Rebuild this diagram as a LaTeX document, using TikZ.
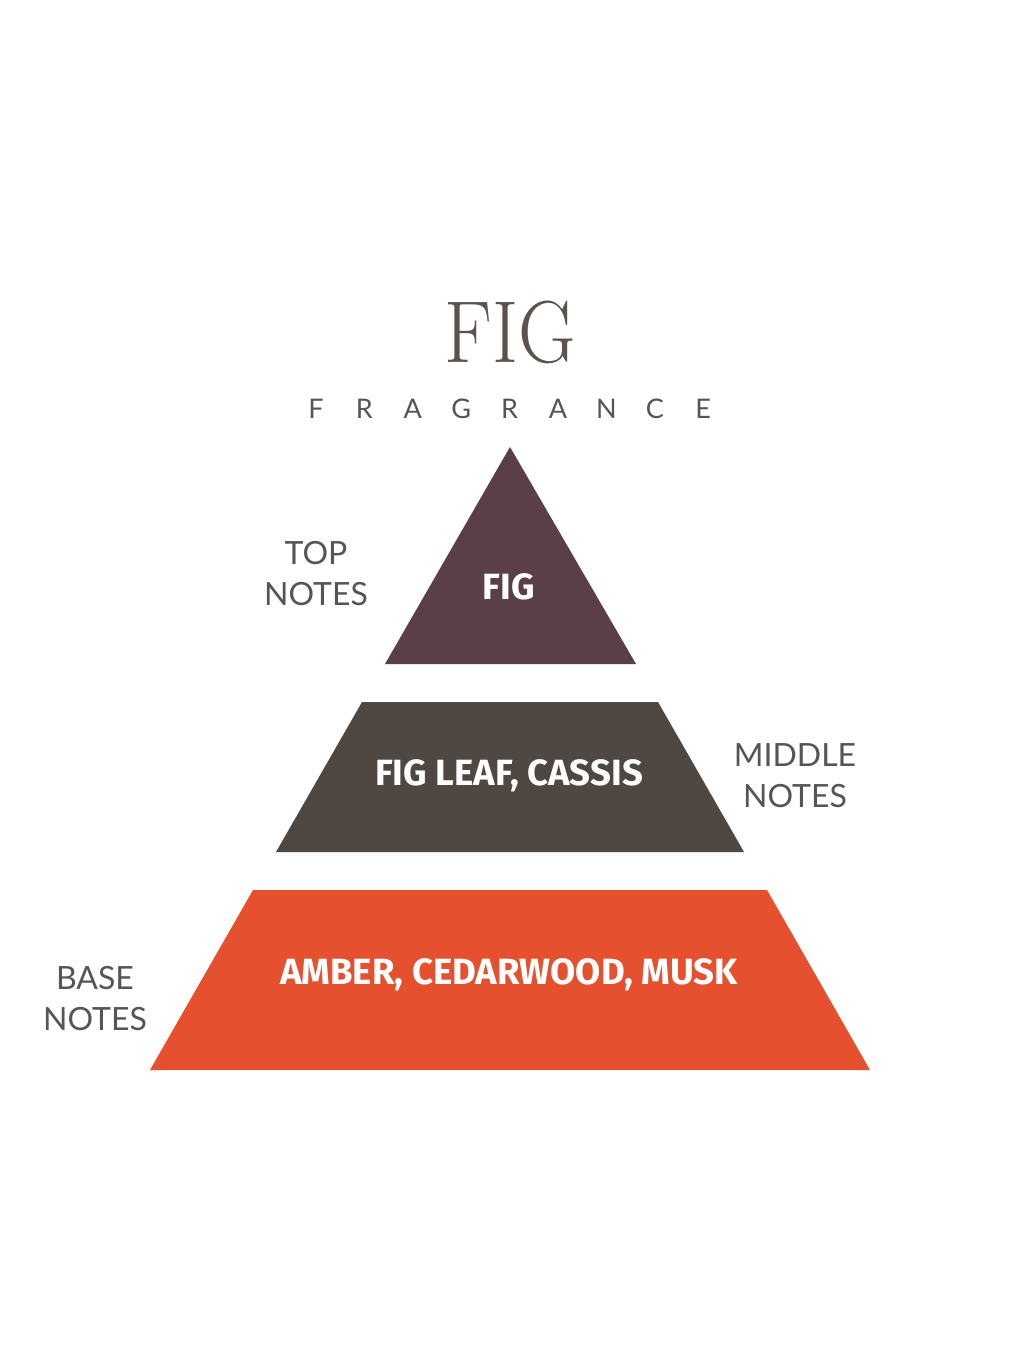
\documentclass[tikz,border=0pt]{standalone}
\usepackage{fontspec}
\newfontfamily\labelfont{Lato}
\newfontfamily\tierfont{Fira Sans}
\definecolor{topcol}{HTML}{5A3F48}
\definecolor{midcol}{HTML}{4E4742}
\definecolor{basecol}{HTML}{E5502E}
\definecolor{titlecol}{HTML}{5C534D}
\definecolor{labelcol}{HTML}{555555}
\begin{document}
\begin{tikzpicture}[x=1pt,y=-1pt,
    title/.style = {text=titlecol,inner sep=0pt,font=\fontsize{88}{88}\selectfont},
    spaced/.style = {text=labelcol,inner sep=0pt,font=\labelfont\fontsize{27}{27}\selectfont},
    side/.style = {text=labelcol,inner sep=0pt,align=center,font=\labelfont\fontsize{32}{41}\selectfont},
    tier/.style = {text=white,inner sep=0pt,font=\tierfont\bfseries\fontsize{36.5}{36.5}\selectfont}]
\fill[white] (0,0) rectangle (1020,1360);
\useasboundingbox (0,0) rectangle (1020,1360);
% title
\node[title] (fig) at (510,332) {\scalebox{0.9}[1]{FIG}};
\foreach \l [count=\j from 0] in {F,R,A,G,R,A,N,C,E}
    \node[spaced] (fr\j) at (316+48.4*\j,409) {\l};
% pyramid
\fill[topcol]  (510,447) -- (636,664) -- (385,664) -- cycle;
\fill[midcol]  (362,702) -- (658,702) -- (744,852) -- (276,852) -- cycle;
\fill[basecol] (253,890) -- (767,890) -- (870,1070) -- (150,1070) -- cycle;
\node[tier] (topnote)  at (509,587) {FIG};
\node[tier] (midnote)  at (509,776) {FIG LEAF, CASSIS};
\node[tier] (basenote) at (509,975) {AMBER, CEDARWOOD, MUSK};
% side labels
\node[side] (toplabel)  at (316,574)  {TOP\\NOTES};
\node[side] (midlabel)  at (795,776)  {MIDDLE\\NOTES};
\node[side] (baselabel) at (95,999)   {BASE\\NOTES};
\end{tikzpicture}
\end{document}
